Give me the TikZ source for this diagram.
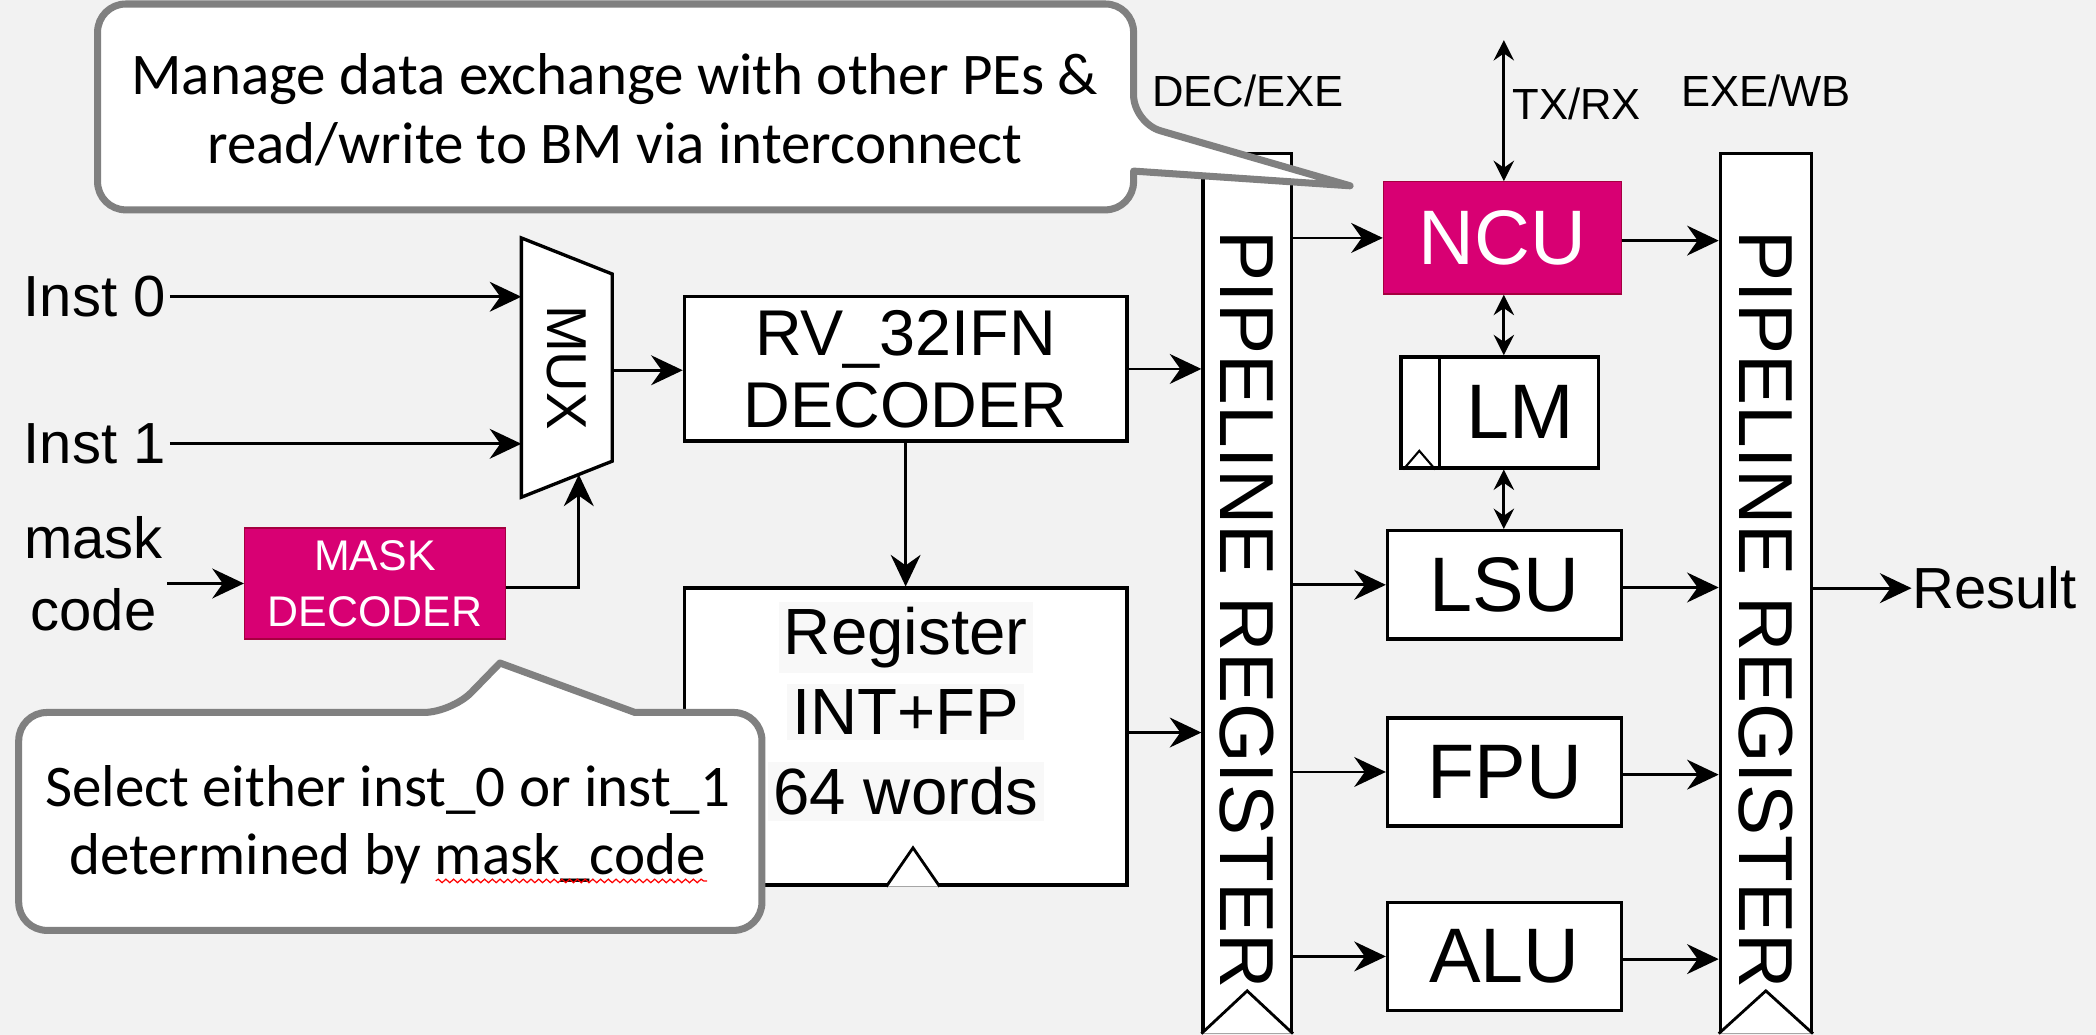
\documentclass[tikz,border=0pt]{standalone}
\usepackage{fontspec}
\setmainfont{Liberation Sans}
\newfontfamily\notefont{Carlito}
\usetikzlibrary{arrows.meta,calc,decorations.pathmorphing}
\definecolor{canvas}{HTML}{F2F2F2}
\definecolor{hotpink}{HTML}{D80073}
\definecolor{hotedge}{HTML}{A50040}
\definecolor{noteedge}{HTML}{808080}
\definecolor{texthl}{HTML}{F8F8F8}
\tikzset{
  blk/.style n args={2}{draw=black, line width=0.95pt, fill=white, inner sep=0pt,
    minimum width=#1*0.38033pt, minimum height=#2*0.38033pt, align=center},
  hot/.style n args={2}{draw=hotedge, line width=0.4pt, fill=hotpink, text=white, inner sep=0pt,
    minimum width=#1*0.38033pt, minimum height=#2*0.38033pt, align=center},
  conn/.style={line width=0.8pt, -{Stealth[length=9pt,width=8.5pt,inset=3pt]}},
  dual/.style={line width=0.8pt,
    {Stealth[length=5.8pt,width=5.8pt,inset=2pt]}-{Stealth[length=5.8pt,width=5.8pt,inset=2pt]}},
  unitfont/.style={font=\fontsize{22}{26}\selectfont},
  pipefont/.style={font=\fontsize{21.8}{25}\selectfont},
  decfont/.style={font=\fontsize{18.4}{20.5}\selectfont},
  regfont/.style={font=\fontsize{18.6}{22.8}\selectfont},
  io/.style={font=\fontsize{16.5}{20.5}\selectfont, inner sep=1pt, align=center},
  tag/.style={font=\fontsize{12.4}{15}\selectfont, inner sep=0pt},
  note/.style={font=\notefont\fontsize{16.8}{19.6}\selectfont, align=center, inner sep=0pt},
  bubble/.style={draw=noteedge, line width=2pt, fill=white, line join=round},
  clock/.style={draw=black, line width=0.8pt, fill=white},
}
\begin{document}
\begin{tikzpicture}[x=0.38033pt, y=-0.38033pt]
  % canvas
  \fill[canvas] (0,0) rectangle (1568,774);
  \useasboundingbox (0,0) rectangle (1568,774);

  % ---------------- instruction selection ----------------
  \node[io, anchor=east] (in0) at (127,222) {Inst 0};
  \node[io, anchor=east] (in1) at (127,332) {Inst 1};
  \node[io] (maskc) at (70,429) {mask\\code};

  % multiplexer outline and its pins
  \draw[line width=0.95pt, fill=white] (390,178) -- (458,205) -- (458,345) -- (390,372) -- cycle;
  \coordinate (m0) at (390,222);
  \coordinate (m1) at (390,332);
  \coordinate (msel) at (433,355);
  \coordinate (mout) at (458,277);
  \node[rotate=-90, font=\fontsize{16}{19}\selectfont, inner sep=0pt] (muxlbl) at (424,275) {MUX};

  \node[hot={195}{83}, font=\fontsize{12.2}{16}\selectfont] (maskdec) at (280.5,436.5) {MASK\\DECODER};

  \draw[conn] (in0) -- (m0);
  \draw[conn] (in1) -- (m1);
  \draw[conn] (maskc.east |- maskdec.west) -- (maskdec.west);
  \draw[conn] ($(maskdec.east)+(0,3)$) -| (msel);

  % ---------------- decode stage ----------------
  \node[blk={331}{108}, decfont] (dec) at (677.5,276) {RV\_32IFN\\DECODER};
  \node[blk={331}{222}] (reg) at (677.5,551) {};
  \node[regfont, align=center, inner sep=0pt] (regtxt) at (677.5,532)
    {\setlength{\fboxsep}{1.5pt}\colorbox{texthl}{Register}\\
     \setlength{\fboxsep}{1.5pt}\colorbox{texthl}{INT+FP}\\
     \setlength{\fboxsep}{1.5pt}\colorbox{texthl}{64 words}};
  \draw[clock] ($(reg.south)+(-14.5,0)$) -- ($(reg.south)+(5.5,-29)$) -- ($(reg.south)+(25.5,0)$);

  \draw[conn] (mout) -- (mout -| dec.west);
  \draw[conn] (dec.south) -- (reg.north);

  % ---------------- pipeline registers ----------------
  \node[blk={66}{657}] (pipe1) at (933,443.5) {};
  \node[rotate=-90, pipefont, inner sep=0pt] (pipe1txt) at (933,456) {PIPELINE REGISTER};
  \draw[clock] (pipe1.south west) -- ($(pipe1.south)+(0,-32)$) -- (pipe1.south east);
  \node[tag] (decexe) at (933.5,68) {DEC/EXE};

  \node[blk={68}{657}] (pipe2) at (1321,443.5) {};
  \node[rotate=-90, pipefont, inner sep=0pt] (pipe2txt) at (1321,456) {PIPELINE REGISTER};
  \draw[clock] (pipe2.south west) -- ($(pipe2.south)+(0,-32)$) -- (pipe2.south east);
  \node[tag] (exewb) at (1321,68) {EXE/WB};

  \draw[conn] (dec.east) -- (dec.east -| pipe1.west);
  \draw[conn] ($(reg.east)+(0,-3)$) -- ($(reg.east -| pipe1.west)+(0,-3)$);

  % ---------------- execute units ----------------
  \node[hot={178}{84}, unitfont] (ncu) at (1124,178) {NCU};
  \node[blk={148}{83}] (lm) at (1122,308.5) {};
  \node[unitfont, inner sep=0pt] (lmtxt) at (1137,308.5) {LM};
  \draw[line width=0.95pt] ($(lm.north west)+(30,0)$) -- ($(lm.south west)+(30,0)$);
  \draw[line width=0.6pt] ($(lm.south west)+(3,0)$) -- ($(lm.south west)+(15,-14)$) -- ($(lm.south west)+(27,0)$);
  \node[blk={175}{81}, unitfont] (lsu) at (1125.5,437.5) {LSU};
  \node[blk={175}{81}, unitfont] (fpu) at (1125.5,577.5) {FPU};
  \node[blk={175}{81}, unitfont] (alu) at (1125.5,715.5) {ALU};

  \coordinate (txrx) at (1125,30);
  \draw[dual] (txrx) -- (txrx |- ncu.north);
  \node[tag, anchor=west] (txrxlbl) at (1131,78) {TX/RX};
  \draw[dual] (ncu.south -| txrx) -- (lm.north -| txrx);
  \draw[dual] (lm.south -| txrx) -- (lsu.north -| txrx);

  \foreach \u in {ncu,lsu,fpu,alu}{
    \draw[conn] (\u.west -| pipe1.east) -- (\u.west);
    \draw[conn] ($(\u.east)+(0,2)$) -- ($(\u.east -| pipe2.west)+(0,2)$);
  }

  \node[io, anchor=west, inner sep=0pt] (result) at (1430,440) {Result};
  \draw[conn] (result.west -| pipe2.east) -- (result.west);

  % ---------------- call-outs ----------------
  \draw[bubble] (73,80) [rounded corners=8pt] |- (848,3) -- (848,92)
    [sharp corners] -- (1010,139) -- (848,128)
    [rounded corners=8pt] |- (73,157) -- cycle;
  \node[note] (ncunote) at (460,82)
    {Manage data exchange with other PEs \&\\read/write to BM via interconnect};

  \draw[bubble] (14,600) [rounded corners=8pt] |- (338,533)
    [sharp corners] -- (374,496) -- (475,533)
    [rounded corners=8pt] -| (570,620) |- (14,696) -- cycle;
  \node[note] (muxnote) at (290,617)
    {Select either inst\_0 or inst\_1\\determined by mask\_code};
  \draw[red, line width=0.35pt, decorate,
    decoration={snake, amplitude=0.5pt, segment length=2.2pt}] (326,659) -- (529,659);
\end{tikzpicture}
\end{document}
